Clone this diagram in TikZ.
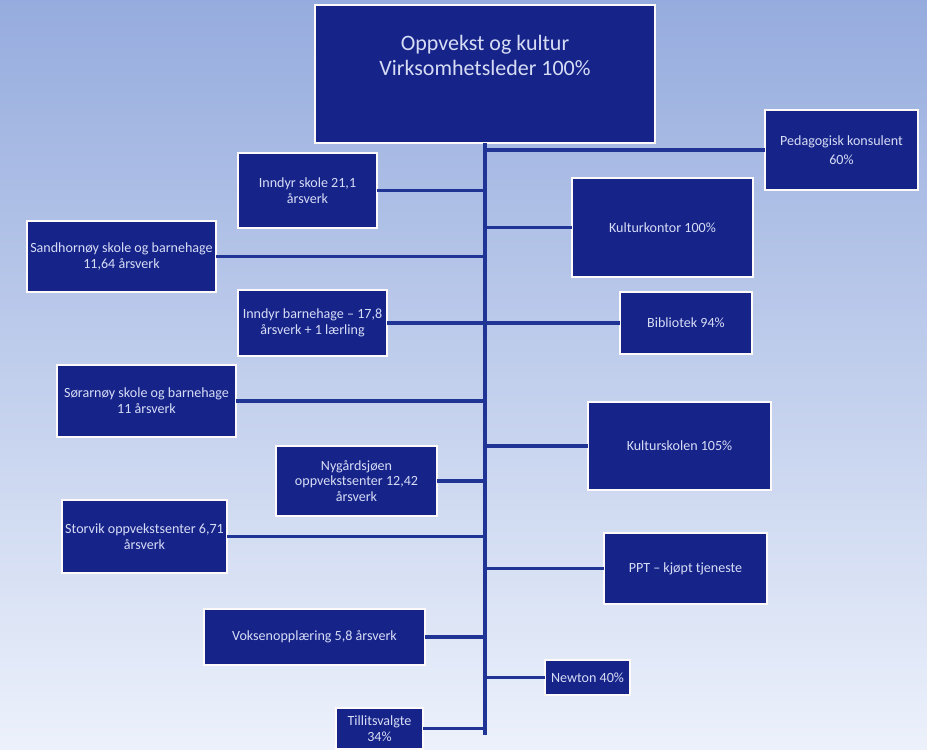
\documentclass[tikz,border=0pt]{standalone}
\usepackage{fontspec}
\setmainfont{Carlito}
\usepackage{tikz}
\definecolor{boxblue}{RGB}{22,36,138}
\definecolor{lineblue}{RGB}{32,52,150}
\definecolor{boxtext}{RGB}{215,220,245}
\tikzset{unit/.style={draw=white!92!pink, line width=1.4pt, fill=boxblue,
  text=boxtext, font=\fontsize{8}{9}\selectfont, align=center,
  inner sep=1pt, outer sep=0pt},
  branch/.style={draw=lineblue, line width=2.2pt}}

\begin{document}
\begin{tikzpicture}
  \shade[top color={rgb,255:red,150;green,172;blue,222},
    bottom color={rgb,255:red,236;green,241;blue,251}]
    (0,0) rectangle (18.54,-14.98);
  \useasboundingbox (0,0) rectangle (18.54,-14.98);
  \node[unit, minimum width=6.8cm, minimum height=2.76cm, text depth=0.75cm,
    font=\fontsize{12.5}{14.5}\selectfont] (top) at (9.7,-1.48)
    {Oppvekst og kultur\\Virksomhetsleder 100\%};
  \node[unit, minimum width=3.06cm, minimum height=1.6cm] (ped) at (16.83,-3.0)
    {Pedagogisk konsulent\\[2pt]60\%};
  \node[unit, minimum width=2.78cm, minimum height=1.5cm] (iskole) at (6.15,-3.81)
    {Inndyr skole 21,1\\årsverk};
  \node[unit, minimum width=3.62cm, minimum height=1.98cm] (kkontor) at (13.25,-4.55)
    {Kulturkontor 100\%};
  \node[unit, minimum width=3.78cm, minimum height=1.42cm] (sand) at (2.43,-5.13)
    {Sandhornøy skole og barnehage\\11,64 årsverk};
  \node[unit, minimum width=2.98cm, minimum height=1.32cm] (ibhg) at (6.25,-6.46)
    {Inndyr barnehage -- 17,8\\årsverk + 1 lærling};
  \node[unit, minimum width=2.64cm, minimum height=1.24cm] (bibl) at (13.72,-6.46)
    {Bibliotek 94\%};
  \node[unit, minimum width=3.58cm, minimum height=1.44cm] (sor) at (2.93,-8.02)
    {Sørarnøy skole og barnehage\\11 årsverk};
  \node[unit, minimum width=3.66cm, minimum height=1.76cm] (kskole) at (13.59,-8.92)
    {Kulturskolen 105\%};
  \node[unit, minimum width=3.22cm, minimum height=1.4cm] (nyg) at (7.13,-9.62)
    {Nygårdsjøen\\oppvekstsenter 12,42\\årsverk};
  \node[unit, minimum width=3.3cm, minimum height=1.46cm] (stor) at (2.89,-10.73)
    {Storvik oppvekstsenter 6,71\\årsverk};
  \node[unit, minimum width=3.26cm, minimum height=1.42cm] (ppt) at (13.71,-11.37)
    {PPT -- kjøpt tjeneste};
  \node[unit, minimum width=4.42cm, minimum height=1.12cm] (voks) at (6.29,-12.74)
    {Voksenopplæring 5,8 årsverk};
  \node[unit, minimum width=1.7cm, minimum height=0.7cm] (newt) at (11.75,-13.55)
    {Newton 40\%};
  \node[unit, minimum width=1.74cm, minimum height=0.82cm] (till) at (7.59,-14.57)
    {Tillitsvalgte\\34\%};
  \coordinate (bot) at (9.7,-14.7);
  \draw[branch] (top.south) -- (bot);
  \draw[branch] (ped.west) -- (ped.west -| top.south);
  \draw[branch] (iskole.east) -- (iskole.east -| top.south);
  \draw[branch] (kkontor.west) -- (kkontor.west -| top.south);
  \draw[branch] (sand.east) -- (sand.east -| top.south);
  \draw[branch] (ibhg.east) -- (bibl.west);
  \draw[branch] (sor.east) -- (sor.east -| top.south);
  \draw[branch] (kskole.west) -- (kskole.west -| top.south);
  \draw[branch] (nyg.east) -- (nyg.east -| top.south);
  \draw[branch] (stor.east) -- (stor.east -| top.south);
  \draw[branch] (ppt.west) -- (ppt.west -| top.south);
  \draw[branch] (voks.east) -- (voks.east -| top.south);
  \draw[branch] (newt.west) -- (newt.west -| top.south);
  \draw[branch] (till.east) -- (till.east -| top.south);
\end{tikzpicture}
\end{document}
